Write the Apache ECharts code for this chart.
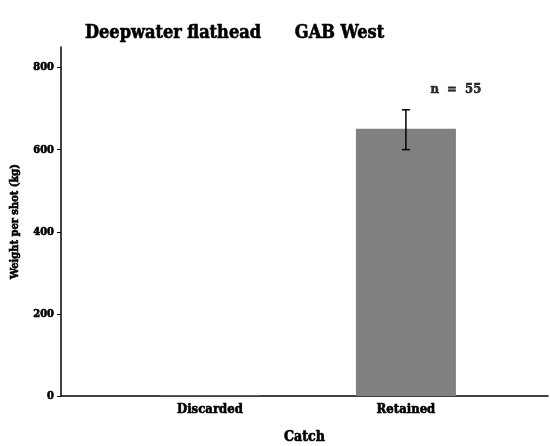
<!DOCTYPE html>
<html><head><meta charset="utf-8">
<script src="https://cdn.jsdelivr.net/npm/echarts@6/dist/echarts.min.js"></script>
<style>html,body{margin:0;padding:0;background:#fff}#c{width:550px;height:446px}</style>
</head><body><div id="c"></div>
<script>
var categories = ['Discarded', 'Retained'];
var catPositions = [1, 2];
var values = [1, 651];
var errLow = [1, 600];
var errHigh = [1, 697];
var yTicks = [0, 200, 400, 600, 800];
var nLabel = 'n  =  55';
var nLabelPos = [2.255, 746];

var FONT = '"DejaVu Serif Condensed", "DejaVu Serif", serif';
function ts(size) {
  return { fontFamily: FONT, fontWeight: 'bold', fontSize: size, color: '#000',
    textBorderColor: '#000', textBorderWidth: 0.6 };
}
var chart = echarts.init(document.getElementById('c'));
chart.setOption({
  animation: false,
  title: { text: 'Deepwater flathead      GAB West', left: 80, top: 19,
    textStyle: ts(18) },
  grid: { left: 61, right: 2, top: 47, bottom: 50, outerBoundsMode: 'none', containLabel: false },
  xAxis: {
    type: 'value', min: 0.24, max: 2.725,
    name: 'Catch', nameLocation: 'middle', nameGap: 34,
    nameTextStyle: ts(14),
    splitLine: { show: false },
    axisLine: { show: true, lineStyle: { color: '#000', width: 1.5 } },
    axisTick: { show: false },
    axisLabel: Object.assign({ customValues: catPositions, margin: 7,
      formatter: function (v) { var i = catPositions.indexOf(Math.round(v)); return i >= 0 ? categories[i] : ''; }
    }, ts(13))
  },
  yAxis: {
    type: 'value', min: 0, max: 850,
    name: 'Weight per shot (kg)', nameLocation: 'middle', nameGap: 40,
    nameTextStyle: ts(11),
    splitLine: { show: false },
    axisLine: { show: true, lineStyle: { color: '#000', width: 1.5 } },
    axisTick: { show: true, customValues: yTicks, length: 4, lineStyle: { color: '#000' } },
    axisLabel: Object.assign({ customValues: yTicks, margin: 7 }, ts(11))
  },
  series: [
    { type: 'bar', barWidth: 100, itemStyle: { color: '#808080' },
      data: catPositions.map(function (p, i) { return [p, values[i]]; }) },
    { type: 'custom', z: 5,
      data: catPositions.map(function (p, i) { return [p, errLow[i], errHigh[i]]; }),
      renderItem: function (params, api) {
        var lo = api.coord([api.value(0), api.value(1)]);
        var hi = api.coord([api.value(0), api.value(2)]);
        if (Math.abs(lo[1] - hi[1]) < 2) return null;
        var w = 4, st = { stroke: '#000', lineWidth: 1.5 };
        return { type: 'group', children: [
          { type: 'line', shape: { x1: lo[0], y1: lo[1], x2: hi[0], y2: hi[1] }, style: st },
          { type: 'line', shape: { x1: lo[0] - w, y1: lo[1], x2: lo[0] + w, y2: lo[1] }, style: st },
          { type: 'line', shape: { x1: hi[0] - w, y1: hi[1], x2: hi[0] + w, y2: hi[1] }, style: st }
        ] };
      } },
    { type: 'scatter', symbolSize: 0, data: [nLabelPos],
      label: Object.assign({ show: true, position: 'inside', formatter: nLabel }, ts(13)) }
  ]
});
</script></body></html>
